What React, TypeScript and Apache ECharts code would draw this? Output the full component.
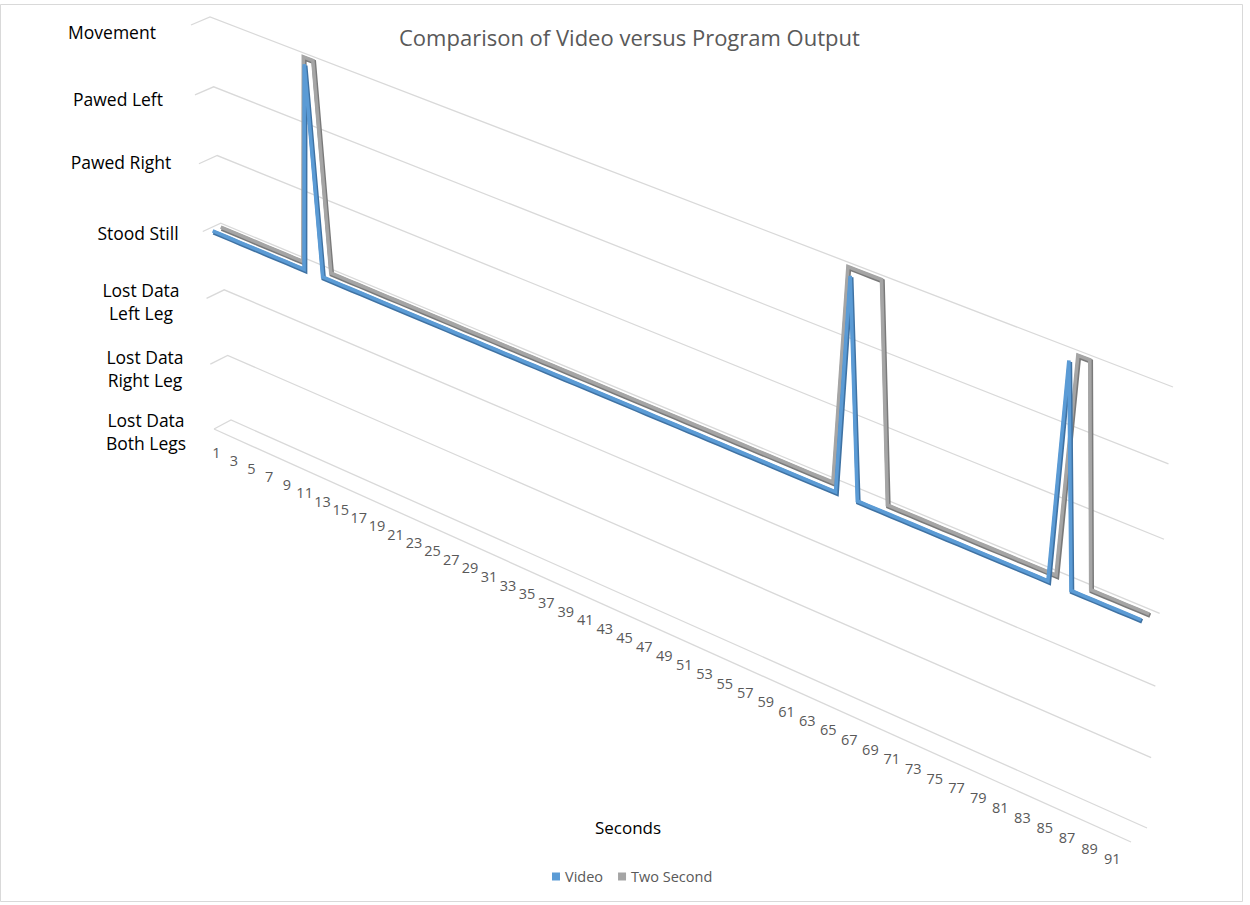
import { useEffect, useRef } from 'react';
import * as echarts from 'echarts';

// Category axis: seconds of the recording
const SECONDS = [
  '1', '2', '3', '4', '5', '6', '7', '8', '9', '10',
  '11', '12', '13', '14', '15', '16', '17', '18', '19', '20',
  '21', '22', '23', '24', '25', '26', '27', '28', '29', '30',
  '31', '32', '33', '34', '35', '36', '37', '38', '39', '40',
  '41', '42', '43', '44', '45', '46', '47', '48', '49', '50',
  '51', '52', '53', '54', '55', '56', '57', '58', '59', '60',
  '61', '62', '63', '64', '65', '66', '67', '68', '69', '70',
  '71', '72', '73', '74', '75', '76', '77', '78', '79', '80',
  '81', '82', '83', '84', '85', '86', '87', '88', '89', '90',
  '91',
];

// Value axis: behaviour states, bottom to top
const LEVELS = [
  'Lost Data\nBoth Legs',
  'Lost Data\nRight Leg',
  'Lost Data\nLeft Leg',
  'Stood Still',
  'Pawed Right',
  'Pawed Left',
  'Movement',
];

// State per second (index into LEVELS): 3 = Stood Still, 6 = Movement
const VIDEO = [
  3, 3, 3, 3, 3, 3, 3, 3, 3, 3,
  3, 6, 3, 3, 3, 3, 3, 3, 3, 3,
  3, 3, 3, 3, 3, 3, 3, 3, 3, 3,
  3, 3, 3, 3, 3, 3, 3, 3, 3, 3,
  3, 3, 3, 3, 3, 3, 3, 3, 3, 3,
  3, 3, 3, 3, 3, 3, 3, 3, 3, 3,
  3, 3, 3, 3, 6, 3, 3, 3, 3, 3,
  3, 3, 3, 3, 3, 3, 3, 3, 3, 3,
  3, 3, 3, 6, 3, 3, 3, 3, 3, 3,
  3,
];

const TWO_SECOND = [
  3, 3, 3, 3, 3, 3, 3, 3, 3, 3,
  6, 6, 3, 3, 3, 3, 3, 3, 3, 3,
  3, 3, 3, 3, 3, 3, 3, 3, 3, 3,
  3, 3, 3, 3, 3, 3, 3, 3, 3, 3,
  3, 3, 3, 3, 3, 3, 3, 3, 3, 3,
  3, 3, 3, 3, 3, 3, 3, 3, 3, 3,
  3, 3, 3, 6, 6, 6, 6, 3, 3, 3,
  3, 3, 3, 3, 3, 3, 3, 3, 3, 3,
  3, 3, 3, 6, 6, 3, 3, 3, 3, 3,
  3,
];

// ---- layout of the perspective box ----
const FONT = '"Open Sans", "Noto Sans", sans-serif';
type Pt = [number, number];
// back wall corners: (s=0,t=0), (s=1,t=0), (s=1,t=1), (s=0,t=1)
const BACK: Pt[] = [[231, 420], [1147, 828], [1173, 387], [210, 17]];
// front plane corners, same order
const FRONT: Pt[] = [[214, 429], [1131, 842], [1153, 399], [191, 25]];
const LEVEL_LABEL_X = [146, 145, 141, 138, 121, 118, 112];
const LEVEL_LABEL_DY = [2, 4, 3, 1, -2, 4, 7];
const VIDEO_DEPTH = 0.3;
const TWO_SECOND_DEPTH = 0.75;

function makeHomography(q: Pt[]) {
  const [[x0, y0], [x1, y1], [x2, y2], [x3, y3]] = q;
  const dx1 = x1 - x2, dx2 = x3 - x2, dx3 = x0 - x1 + x2 - x3;
  const dy1 = y1 - y2, dy2 = y3 - y2, dy3 = y0 - y1 + y2 - y3;
  const den = dx1 * dy2 - dx2 * dy1;
  const g = (dx3 * dy2 - dx2 * dy3) / den;
  const h = (dx1 * dy3 - dx3 * dy1) / den;
  const a = x1 - x0 + g * x1, b = x3 - x0 + h * x3, c = x0;
  const d = y1 - y0 + g * y1, e = y3 - y0 + h * y3, f = y0;
  return (s: number, t: number): Pt => {
    const w = g * s + h * t + 1;
    return [(a * s + b * t + c) / w, (d * s + e * t + f) / w];
  };
}

const backWall = makeHomography(BACK);
const frontPlane = makeHomography(FRONT);

// z = 0 front, z = 1 back wall
function project(s: number, t: number, z: number): Pt {
  const f = frontPlane(s, t);
  const b = backWall(s, t);
  return [f[0] + (b[0] - f[0]) * z, f[1] + (b[1] - f[1]) * z];
}

// axis position -> unit coordinates of the plotting plane
function toUnit(api: any, params: any, i: number, k: number): Pt {
  const cs = params.coordSys;
  const [px, py] = api.coord([i, k]);
  return [(px - cs.x) / cs.width, (cs.y + cs.height - py) / cs.height];
}

function frameSeries() {
  return {
    type: 'custom',
    coordinateSystem: 'cartesian2d',
    data: [[0, 0]],
    clip: false,
    silent: true,
    z: 1,
    renderItem: (params: any, api: any) => {
      const children: any[] = [];
      const gridStyle = { stroke: '#D9D9D9', lineWidth: 1.3, fill: null };
      LEVELS.forEach((name, k) => {
        const [, t] = toUnit(api, params, 0, k);
        const a = project(0, t, 0);
        const b = project(0, t, 1);
        const c = project(1, t, 1);
        children.push({ type: 'polyline', shape: { points: [a, b, c] }, style: gridStyle });
        children.push({
          type: 'text',
          style: {
            text: name, x: LEVEL_LABEL_X[k], y: a[1] + LEVEL_LABEL_DY[k],
            align: 'center', verticalAlign: 'middle',
            fontFamily: FONT, fontSize: 17.5, lineHeight: 23, fill: '#000000',
          },
        });
      });
      const f0 = project(0, 0, 0);
      const f1 = project(1, 0, 0);
      children.push({ type: 'line', shape: { x1: f0[0], y1: f0[1], x2: f1[0], y2: f1[1] }, style: gridStyle });
      SECONDS.forEach((lab, i) => {
        if (i % 2 === 1) return;
        const [s] = toUnit(api, params, i, 0);
        const p = project(s, 0, 0);
        children.push({
          type: 'text',
          style: {
            text: lab, x: p[0] - 2 - 11 * s, y: p[1] + 22 - 3 * s,
            align: 'center', verticalAlign: 'middle',
            fontFamily: FONT, fontSize: 14.5, fill: '#595959',
          },
        });
      });
      return { type: 'group', children };
    },
  };
}

function ribbonSeries(name: string, values: number[], depth: number, light: string, dark: string) {
  return {
    type: 'custom',
    name,
    coordinateSystem: 'cartesian2d',
    data: [[0, 0]],
    clip: false,
    silent: true,
    z: 2,
    itemStyle: { color: light },
    renderItem: (params: any, api: any) => {
      const pts = values.map((v, i) => {
        const [s, t] = toUnit(api, params, i, v);
        return project(s, t, depth);
      });
      const edge = pts.map(([x, y]) => [x + 1, y + 1.5]);
      return {
        type: 'group',
        children: [
          { type: 'polyline', shape: { points: edge }, style: { stroke: dark, lineWidth: 4.6, fill: null } },
          { type: 'polyline', shape: { points: pts }, style: { stroke: light, lineWidth: 3.6, fill: null } },
        ],
      };
    },
  };
}

export default function App() {
  const ref = useRef<HTMLDivElement>(null);

  useEffect(() => {
    if (!ref.current) return;
    const chart = echarts.init(ref.current, null, { renderer: 'svg' });
    chart.setOption({
      animation: false,
      backgroundColor: '#ffffff',
      title: {
        text: 'Comparison of Video versus Program Output',
        left: 394,
        top: 21,
        textStyle: { fontFamily: FONT, fontSize: 22, fontWeight: 'normal', color: '#595959' },
      },
      legend: {
        data: ['Video', 'Two Second'],
        left: 547,
        top: 864,
        icon: 'rect',
        itemWidth: 8,
        itemHeight: 8,
        itemGap: 15,
        textStyle: { fontFamily: FONT, fontSize: 14.5, color: '#595959' },
      },
      grid: { left: 0, top: 0, width: 900, height: 600, show: false },
      xAxis: { type: 'category', data: SECONDS, boundaryGap: true, show: false },
      yAxis: { type: 'category', data: LEVELS, boundaryGap: false, show: false },
      graphic: [
        {
          type: 'rect',
          shape: { x: 0.5, y: 4.5, width: 1242, height: 897 },
          style: { fill: null, stroke: '#D9D9D9', lineWidth: 1 },
          silent: true,
        },
        {
          type: 'text',
          x: 628,
          y: 827,
          style: {
            text: 'Seconds', align: 'center', verticalAlign: 'middle',
            fontFamily: FONT, fontSize: 17, fill: '#000000',
          },
          silent: true,
        },
      ],
      series: [
        frameSeries(),
        ribbonSeries('Two Second', TWO_SECOND, TWO_SECOND_DEPTH, '#A5A5A5', '#7A7A7A'),
        ribbonSeries('Video', VIDEO, VIDEO_DEPTH, '#5B9BD5', '#3F72A3'),
      ],
    });
    return () => chart.dispose();
  }, []);

  return (
    <div
      ref={ref}
      style={{ position: 'absolute', left: 0, top: 0, width: 1250, height: 905 }}
    />
  );
}
